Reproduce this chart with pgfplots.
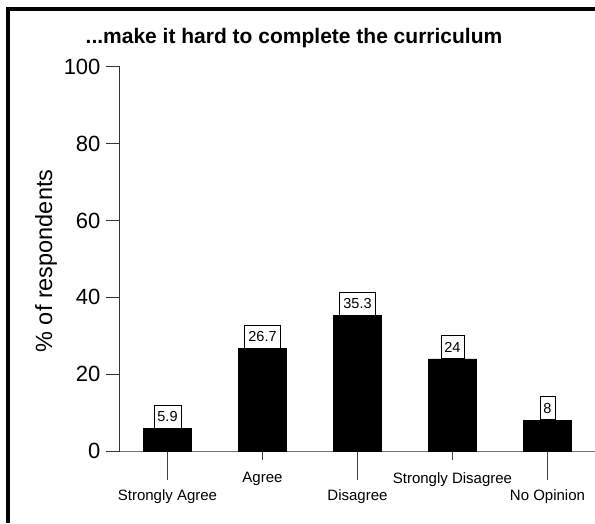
\documentclass[border=0pt]{standalone}
\usepackage{fontspec}
\setmainfont{Liberation Sans}
\usepackage{pgfplots}
\usepackage{pgfplotstable}
\pgfplotsset{compat=1.18}

\pgfplotstableread{
x y label
0 5.9  5.9
1 26.7 26.7
2 35.3 35.3
3 24   24
4 8    8
}\answers

\begin{document}
\begin{tikzpicture}
\useasboundingbox (0,0) rectangle (595pt,523pt);
% frame (only left and top edges show)
\draw[line width=4pt, line join=miter] (7.5pt,0) -- (7.5pt,514pt) -- (600pt,514pt);
\begin{axis}[
  at={(120pt,72pt)}, anchor=south west,
  scale only axis,
  width=475pt, height=384pt,
  xmin=-0.5, xmax=4.5,
  ymin=0, ymax=100,
  axis x line=bottom, axis y line=left,
  x axis line style={-, black!55, line width=1pt},
  y axis line style={-, black!80, line width=1pt},
  tick align=outside,
  major tick length=9pt,
  ytick={0,20,...,100},
  y tick style={black!80, line width=1pt, /pgfplots/major tick length=14pt},
  yticklabel style={font=\fontsize{22}{26}\selectfont, xshift=-7pt},
  /pgf/number format/assume math mode=true,
  xtick={1,3},
  xticklabels={Agree, Strongly Disagree},
  x tick style={black!75, line width=1pt},
  xticklabel style={font=\fontsize{15}{18}\selectfont, anchor=north, yshift=-9pt},
  extra x ticks={0,2,4},
  extra x tick labels={Strongly Agree, Disagree, No Opinion},
  extra x tick style={/pgfplots/major tick length=29pt,
    tick label style={yshift=3pt}},
  nodes near coords,
  point meta=explicit symbolic,
  every node near coord/.append style={
    font=\fontsize{14.5}{17}\selectfont, draw=black, line width=0.8pt,
    fill=white, anchor=south, inner xsep=3.5pt, inner ysep=0pt,
    minimum height=23pt, text height=10.5pt, text depth=0pt},
  clip=false,
]
\addplot[ybar, bar width=48pt, fill=black, draw=black] table[x=x, y=y, meta=label] {\answers};
\end{axis}
\node[font=\fontsize{21}{24}\selectfont\bfseries] at (294pt,485pt) {...make it hard to complete the curriculum};
\node[rotate=90, font=\fontsize{23.5}{27}\selectfont] at (46pt,262pt) {\% of respondents};
\end{tikzpicture}
\end{document}
